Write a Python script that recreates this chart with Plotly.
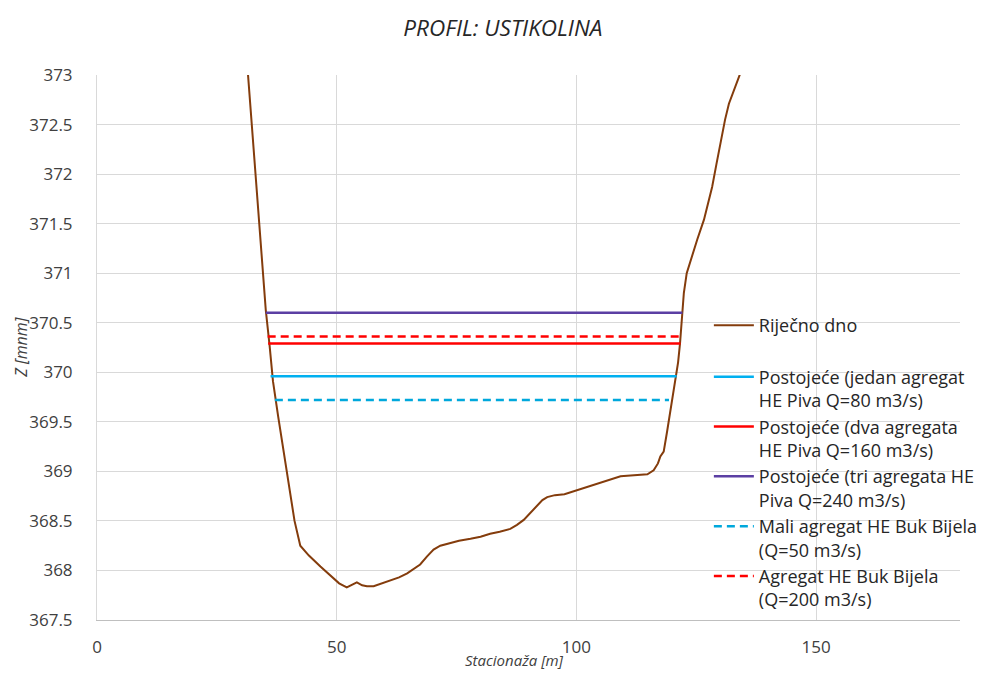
import plotly.graph_objects as go

# River bed profile (Riječno dno)
bed_x = [31.5, 33.0, 34.1, 35.2, 36.0, 36.7, 37.8, 39.0, 40.1, 41.2, 42.4, 44.2, 46.6, 49.0, 50.5,
         52.1, 53.2, 54.2, 55.3, 56.3, 57.7, 59.5, 61.2, 63.0, 64.7, 66.0, 67.4, 68.8, 70.2, 71.6,
         73.0, 75.5, 77.9, 80.0, 82.0, 84.0, 86.2, 87.6, 89.0, 90.4, 91.8, 92.9, 93.9, 95.5, 97.5,
         99.4, 101.2, 102.9, 104.7, 106.4, 107.8, 109.2, 112.0, 114.8, 116.1, 117.0, 117.5, 118.2,
         118.9, 119.5, 120.0, 120.7, 121.2, 121.6, 121.9, 122.1, 122.4, 123.0, 123.8, 125.2, 126.6,
         128.3, 129.2, 130.1, 131.0, 131.8, 133.0, 134.2]
bed_z = [373.00, 372.07, 371.35, 370.63, 370.27, 369.91, 369.55, 369.19, 368.83, 368.50, 368.25,
         368.15, 368.04, 367.93, 367.87, 367.83, 367.86, 367.88, 367.85, 367.84, 367.84, 367.87,
         367.90, 367.93, 367.97, 368.01, 368.06, 368.14, 368.21, 368.25, 368.27, 368.30, 368.32,
         368.34, 368.37, 368.39, 368.42, 368.46, 368.51, 368.58, 368.66, 368.71, 368.74, 368.76,
         368.77, 368.80, 368.83, 368.85, 368.88, 368.91, 368.93, 368.95, 368.96, 368.97, 369.01,
         369.08, 369.15, 369.20, 369.40, 369.58, 369.75, 369.92, 370.10, 370.29, 370.45, 370.60,
         370.80, 371.00, 371.13, 371.34, 371.54, 371.87, 372.10, 372.34, 372.55, 372.71, 372.87,
         373.02]

# Water levels: [left station, right station], level
q80_x = [36.2, 120.9];  q80_z = 369.96
q160_x = [35.7, 121.7]; q160_z = 370.29
q240_x = [35.2, 122.1]; q240_z = 370.60
bb50_x = [37.1, 119.3]; bb50_z = 369.72
bb200_x = [35.6, 121.8]; bb200_z = 370.36

names = [
    "Riječno dno",
    "Postojeće (jedan agregat<br>HE Piva Q=80 m3/s)",
    "Postojeće (dva agregata<br>HE Piva Q=160 m3/s)",
    "Postojeće (tri agregata HE<br>Piva Q=240 m3/s)",
    "Mali agregat HE Buk Bijela<br>(Q=50 m3/s)",
    "Agregat HE Buk Bijela<br>(Q=200 m3/s)",
]

FONT = "Open Sans"
W, H = 978, 667   # page body adds an 8px margin around the figure
fig = go.Figure()
fig.add_trace(go.Scatter(x=bed_x, y=bed_z, mode="lines", name=names[0],
                         line=dict(color="#843C0C", width=2), legendgroup="a"))
fig.add_trace(go.Scatter(x=q80_x, y=[q80_z] * 2, mode="lines", name=names[1],
                         line=dict(color="#00B0F0", width=2.5), legendgroup="b"))
fig.add_trace(go.Scatter(x=q160_x, y=[q160_z] * 2, mode="lines", name=names[2],
                         line=dict(color="#FF0000", width=2.5), legendgroup="b"))
fig.add_trace(go.Scatter(x=q240_x, y=[q240_z] * 2, mode="lines", name=names[3],
                         line=dict(color="#5B3FA3", width=2.5), legendgroup="b"))
fig.add_trace(go.Scatter(x=bb50_x, y=[bb50_z] * 2, mode="lines", name=names[4],
                         line=dict(color="#00A8DC", width=2.5, dash="8px,5px"), legendgroup="b"))
fig.add_trace(go.Scatter(x=bb200_x, y=[bb200_z] * 2, mode="lines", name=names[5],
                         line=dict(color="#FF0000", width=2.5, dash="8px,5px"), legendgroup="b"))

fig.update_layout(
    width=W, height=H,
    margin=dict(l=89, r=26, t=67, b=55, autoexpand=False),
    paper_bgcolor="white", plot_bgcolor="white",
    font=dict(family=FONT, size=16, color="#404040"),
    title=dict(text="<i>PROFIL: USTIKOLINA</i>", x=0.506, xref="container", xanchor="center",
               y=0.970, yanchor="middle", font=dict(family=FONT, size=22.5, color="#262626")),
    xaxis=dict(range=[0, 180], tickvals=[0, 50, 100, 150], showgrid=True, gridcolor="#D9D9D9",
               gridwidth=1, zeroline=False, showline=True, linecolor="#BFBFBF", linewidth=1,
               ticklabelstandoff=12, automargin=False,
               tickfont=dict(family=FONT, size=17, color="#404040")),
    yaxis=dict(range=[367.5, 373], dtick=0.5, tick0=367.5, showgrid=True, gridcolor="#D9D9D9",
               gridwidth=1, zeroline=False, showline=True, linecolor="#D9D9D9", linewidth=1,
               ticklabelstandoff=20, automargin=False, tickformat="~r",
               tickfont=dict(family=FONT, size=17, color="#404040")),
    legend=dict(x=0.709, y=0.574, xanchor="left", yanchor="top", bgcolor="rgba(0,0,0,0)",
                font=dict(family=FONT, size=18, color="#262626"), traceorder="grouped",
                tracegroupgap=25, valign="top", itemwidth=40),
    showlegend=True,
    annotations=[
        dict(text="<i>Stacionaža [m]</i>", xref="paper", yref="paper",
             x=0.484, y=-0.074, yanchor="middle", xanchor="center", showarrow=False,
             font=dict(family=FONT, size=15, color="#404040")),
        dict(text="<i>Z [mnm]</i>", xref="paper", yref="paper", textangle=-90,
             x=-0.089, y=0.5, xanchor="center", yanchor="middle", showarrow=False,
             font=dict(family=FONT, size=16, color="#404040")),
    ],
)

fig.write_html("out.html")
